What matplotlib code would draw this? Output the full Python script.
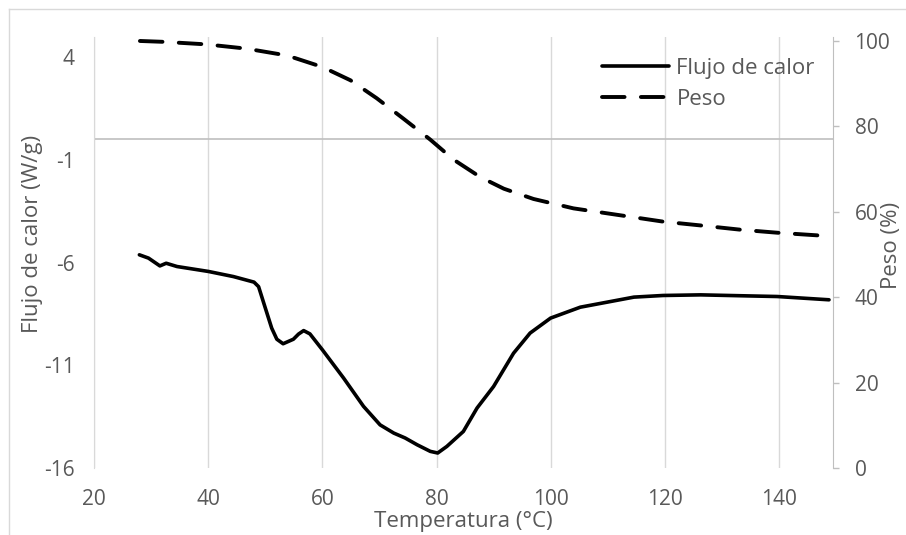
import matplotlib
matplotlib.use("Agg")
import matplotlib.pyplot as plt
from matplotlib.lines import Line2D

# heat flow curve (W/g) vs temperature (°C)
temp_flujo = [27.9, 29.5, 31.5, 32.6, 34.5, 40.0, 44.4, 48.0, 48.8, 49.9, 51.1,
              52.0, 53.1, 54.9, 55.8, 56.7, 57.8, 60.0, 63.7, 67.2, 70.1, 72.5,
              74.5, 76.6, 78.9, 80.2, 81.8, 84.7, 87.1, 90.0, 93.5, 96.4, 100.0,
              105.2, 110.0, 114.6, 119.7, 126.3, 134.5, 139.7, 148.8]
flujo = [-5.62, -5.78, -6.16, -6.03, -6.19, -6.43, -6.68, -6.95, -7.17, -8.14,
         -9.19, -9.73, -9.95, -9.73, -9.48, -9.31, -9.47, -10.25, -11.62, -13.0,
         -13.9, -14.3, -14.54, -14.87, -15.19, -15.27, -14.95, -14.22, -13.08,
         -12.03, -10.41, -9.43, -8.70, -8.17, -7.92, -7.68, -7.60, -7.57, -7.62,
         -7.65, -7.81]

# weight curve (%) vs temperature (°C)
temp_peso = [28.0, 32.1, 39.7, 46.7, 53.8, 60.0, 64.9, 69.5, 74.2, 78.9, 83.0,
             87.7, 91.8, 97.0, 104.0, 111.1, 119.7, 126.3, 133.3, 139.7, 148.8]
peso = [100.0, 99.8, 99.2, 98.2, 96.6, 93.9, 90.8, 86.6, 81.8, 76.9, 72.2,
        68.1, 65.4, 63.0, 60.8, 59.4, 57.7, 56.8, 55.8, 55.1, 54.3]

x_ticks = [20, 40, 60, 80, 100, 120, 140]
left_ticks = [-16, -11, -6, -1, 4]
right_ticks = [0, 20, 40, 60, 80, 100]

plt.rcParams["font.family"] = ["Open Sans", "DejaVu Sans"]
plt.rcParams["axes.unicode_minus"] = False
text_col = "#595959"
grid_col = "#d9d9d9"

W, H = 906, 535
fig = plt.figure(figsize=(W / 100, H / 100), dpi=100)

# outer chart border (partly outside the picture)
fig.add_artist(Line2D([9 / W, 1.0], [1 - 9 / H, 1 - 9 / H], transform=fig.transFigure,
                      color=grid_col, lw=1))
fig.add_artist(Line2D([9 / W, 9 / W], [0.0, 1 - 9 / H], transform=fig.transFigure,
                      color=grid_col, lw=1))

left, right, top, bottom = 94.3, 833, 36.7, 468
ax = fig.add_axes([left / W, 1 - bottom / H, (right - left) / W, (bottom - top) / H])
ax2 = ax.twinx()

l1, = ax.plot(temp_flujo, flujo, color="black", lw=2.6, solid_capstyle="round",
              solid_joinstyle="round", label="Flujo de calor")
l2, = ax2.plot(temp_peso, peso, color="black", lw=2.8, dashes=(5.8, 4.2),
               dash_capstyle="round", label="Peso")

ax.set_xlim(20, 149.5)
ax.set_ylim(-16, 5)
ax2.set_ylim(0, 101)

ax.set_xticks(x_ticks)
ax.set_yticks(left_ticks)
ax2.set_yticks(right_ticks)

ax.grid(axis="x", color=grid_col, lw=1)
ax.set_axisbelow(True)
ax.axhline(0, color="#bfbfbf", lw=1.2, zorder=1)

for a in (ax, ax2):
    for s in a.spines.values():
        s.set_visible(False)
ax.spines["left"].set_visible(True)
ax.spines["left"].set_color(grid_col)
ax2.spines["right"].set_visible(True)
ax2.spines["right"].set_color("#bfbfbf")

ax.tick_params(axis="x", length=0, pad=15, labelsize=15, labelcolor=text_col)
ax.tick_params(axis="y", length=0, pad=14, labelsize=15, labelcolor=text_col)
ax2.tick_params(axis="y", length=4.5, color="#bfbfbf", width=1, pad=11,
                labelsize=15, labelcolor=text_col)

ax.set_xlabel("Temperatura (°C)", fontsize=16, color=text_col)
ax.xaxis.set_label_coords(0.5, (bottom - 521) / (bottom - top))
ax.xaxis.label.set_va("center")

ax.set_ylabel("Flujo de calor (W/g)", fontsize=16, color=text_col)
ax.yaxis.label.set_va("center")
ax.yaxis.set_label_coords((32.5 - left) / (right - left), (bottom - 234) / (bottom - top))

# in the reference this title touches the right edge; keep it just inside
ax2.set_ylabel("Peso (%)", fontsize=16, color=text_col)
ax2.yaxis.label.set_va("center")
ax2.yaxis.set_label_coords((892 - left) / (right - left), (bottom - 245) / (bottom - top))

ax.legend(handles=[l1, l2], loc="upper left", frameon=False, fontsize=16,
          labelcolor=text_col, handlelength=3.0, handletextpad=0.35,
          labelspacing=0.45, borderpad=0, borderaxespad=0,
          bbox_to_anchor=(602 / W, 1 - 58 / H), bbox_transform=fig.transFigure)

fig.savefig("out.png", dpi=100)
